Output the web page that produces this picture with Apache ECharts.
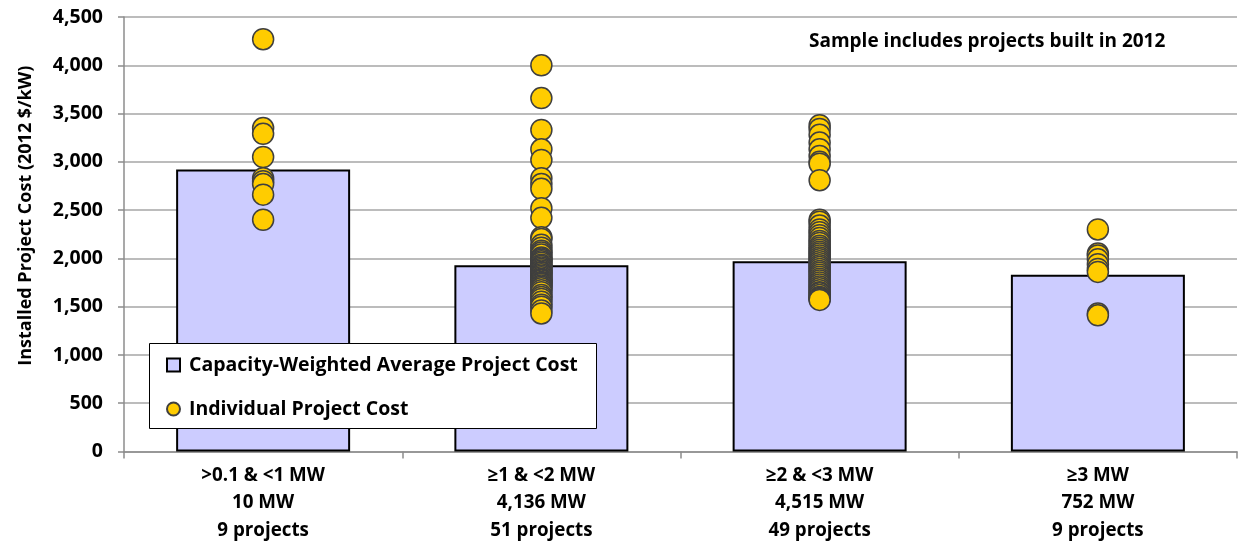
<!DOCTYPE html>
<html>
<head>
<meta charset="utf-8">
<script src="https://cdn.jsdelivr.net/npm/echarts@6/dist/echarts.min.js"></script>
<style>html,body{margin:0;padding:0;background:#fff}#c{width:1238px;height:544px}</style>
</head>
<body>
<div id="c"></div>
<script>
const categories = [
  '>0.1 & <1 MW\n10 MW\n9 projects',
  '≥1 & <2 MW\n4,136 MW\n51 projects',
  '≥2 & <3 MW\n4,515 MW\n49 projects',
  '≥3 MW\n752 MW\n9 projects'
];
const avgCost = [2920, 1930, 1970, 1830];
const projects0 = [4270, 3350, 3290, 3050, 2830, 2800, 2770, 2660, 2400];
const projects1 = [4000, 3660, 3330, 3130, 3020, 2830, 2770, 2720, 2520, 2420,
  2220, 2200, 2140, 2110, 2080, 2060, 2040, 2010, 2000, 1985, 1970, 1955, 1935,
  1920, 1905, 1890, 1875, 1860, 1850, 1835, 1820, 1805, 1790, 1780, 1770, 1755,
  1745, 1735, 1720, 1705, 1690, 1670, 1650, 1620, 1600, 1580, 1550, 1520, 1500,
  1460, 1430];
const projects2 = [3380, 3340, 3280, 3200, 3130, 3060, 3000, 2980, 2810,
  2400, 2380, 2340, 2300, 2270, 2240, 2210, 2180, 2160, 2130, 2110, 2090, 2070,
  2050, 2030, 2010, 1990, 1970, 1950, 1930, 1910, 1890, 1870, 1850, 1830, 1810,
  1790, 1770, 1750, 1730, 1710, 1690, 1670, 1650, 1640, 1620, 1600, 1590, 1580,
  1570];
const projects3 = [2300, 2050, 2030, 1990, 1940, 1890, 1860, 1430, 1410];
const yTicks = [0, 500, 1000, 1500, 2000, 2500, 3000, 3500, 4000, 4500];

const allProjects = [projects0, projects1, projects2, projects3];
const scatterData = [];
allProjects.forEach((arr, i) => arr.forEach(v => scatterData.push([i, v])));

const font = '"Open Sans", "Liberation Sans", sans-serif';
const chart = echarts.init(document.getElementById('c'));
chart.setOption({
  animation: false,
  textStyle: { fontFamily: font, fontWeight: 'bold', color: '#000' },
  grid: { left: 124, right: 1, top: 17, bottom: 91, containLabel: false },
  xAxis: {
    type: 'category',
    data: categories,
    axisLine: { lineStyle: { color: '#8c8c8c', width: 1.5 } },
    axisTick: { show: true, length: 7, lineStyle: { color: '#8c8c8c', width: 1.5 } },
    axisLabel: { fontFamily: font, fontWeight: 'bold', fontSize: 18.8, color: '#000', lineHeight: 27.5, margin: 10, interval: 0 },
    splitLine: { show: false }
  },
  yAxis: {
    type: 'value',
    min: yTicks[0],
    max: yTicks[yTicks.length - 1],
    interval: 500,
    name: 'Installed Project Cost (2012 $/kW)',
    nameLocation: 'middle',
    nameGap: 89,
    nameTextStyle: { fontFamily: font, fontWeight: 'bold', fontSize: 18, color: '#000', padding: [0, 0, 0, 37] },
    axisLine: { show: true, lineStyle: { color: '#8c8c8c', width: 1.5 } },
    axisTick: { show: true, length: 6, lineStyle: { color: '#8c8c8c', width: 1.5 } },
    axisLabel: { fontFamily: font, fontWeight: 'bold', fontSize: 19.5, color: '#000', margin: 21,
      formatter: v => v.toLocaleString('en-US') },
    splitLine: { show: true, lineStyle: { color: '#a6a6a6', width: 1.5 } }
  },
  legend: {
    orient: 'vertical',
    left: 161,
    top: 350,
    itemWidth: 13,
    itemHeight: 13,
    itemGap: 24,
    textStyle: { fontFamily: font, fontWeight: 'bold', fontSize: 19.5, color: '#000', padding: [0, 0, 0, 4] },
    data: [
      { name: 'Capacity-Weighted Average Project Cost', icon: 'rect' },
      { name: 'Individual Project Cost', icon: 'circle' }
    ]
  },
  graphic: [
    { type: 'rect', z: 3, shape: { x: 149.5, y: 343.5, width: 447, height: 85 },
      style: { fill: '#fff', stroke: '#000', lineWidth: 1 } },
    { type: 'text', z: 5, left: 809, top: 32,
      style: { text: 'Sample includes projects built in 2012', font: 'bold 19px ' + font, fill: '#000' } }
  ],
  series: [
    {
      name: 'Capacity-Weighted Average Project Cost',
      type: 'bar',
      data: avgCost,
      barWidth: 174,
      itemStyle: { color: '#ccccff', borderColor: '#000', borderWidth: 2 },
      z: 2
    },
    {
      name: 'Individual Project Cost',
      type: 'scatter',
      data: scatterData,
      symbol: 'circle',
      symbolSize: 21,
      itemStyle: { color: '#ffcc00', borderColor: '#3f3f3f', borderWidth: 1.5, opacity: 1 },
      z: 4
    }
  ]
});
</script>
</body>
</html>
